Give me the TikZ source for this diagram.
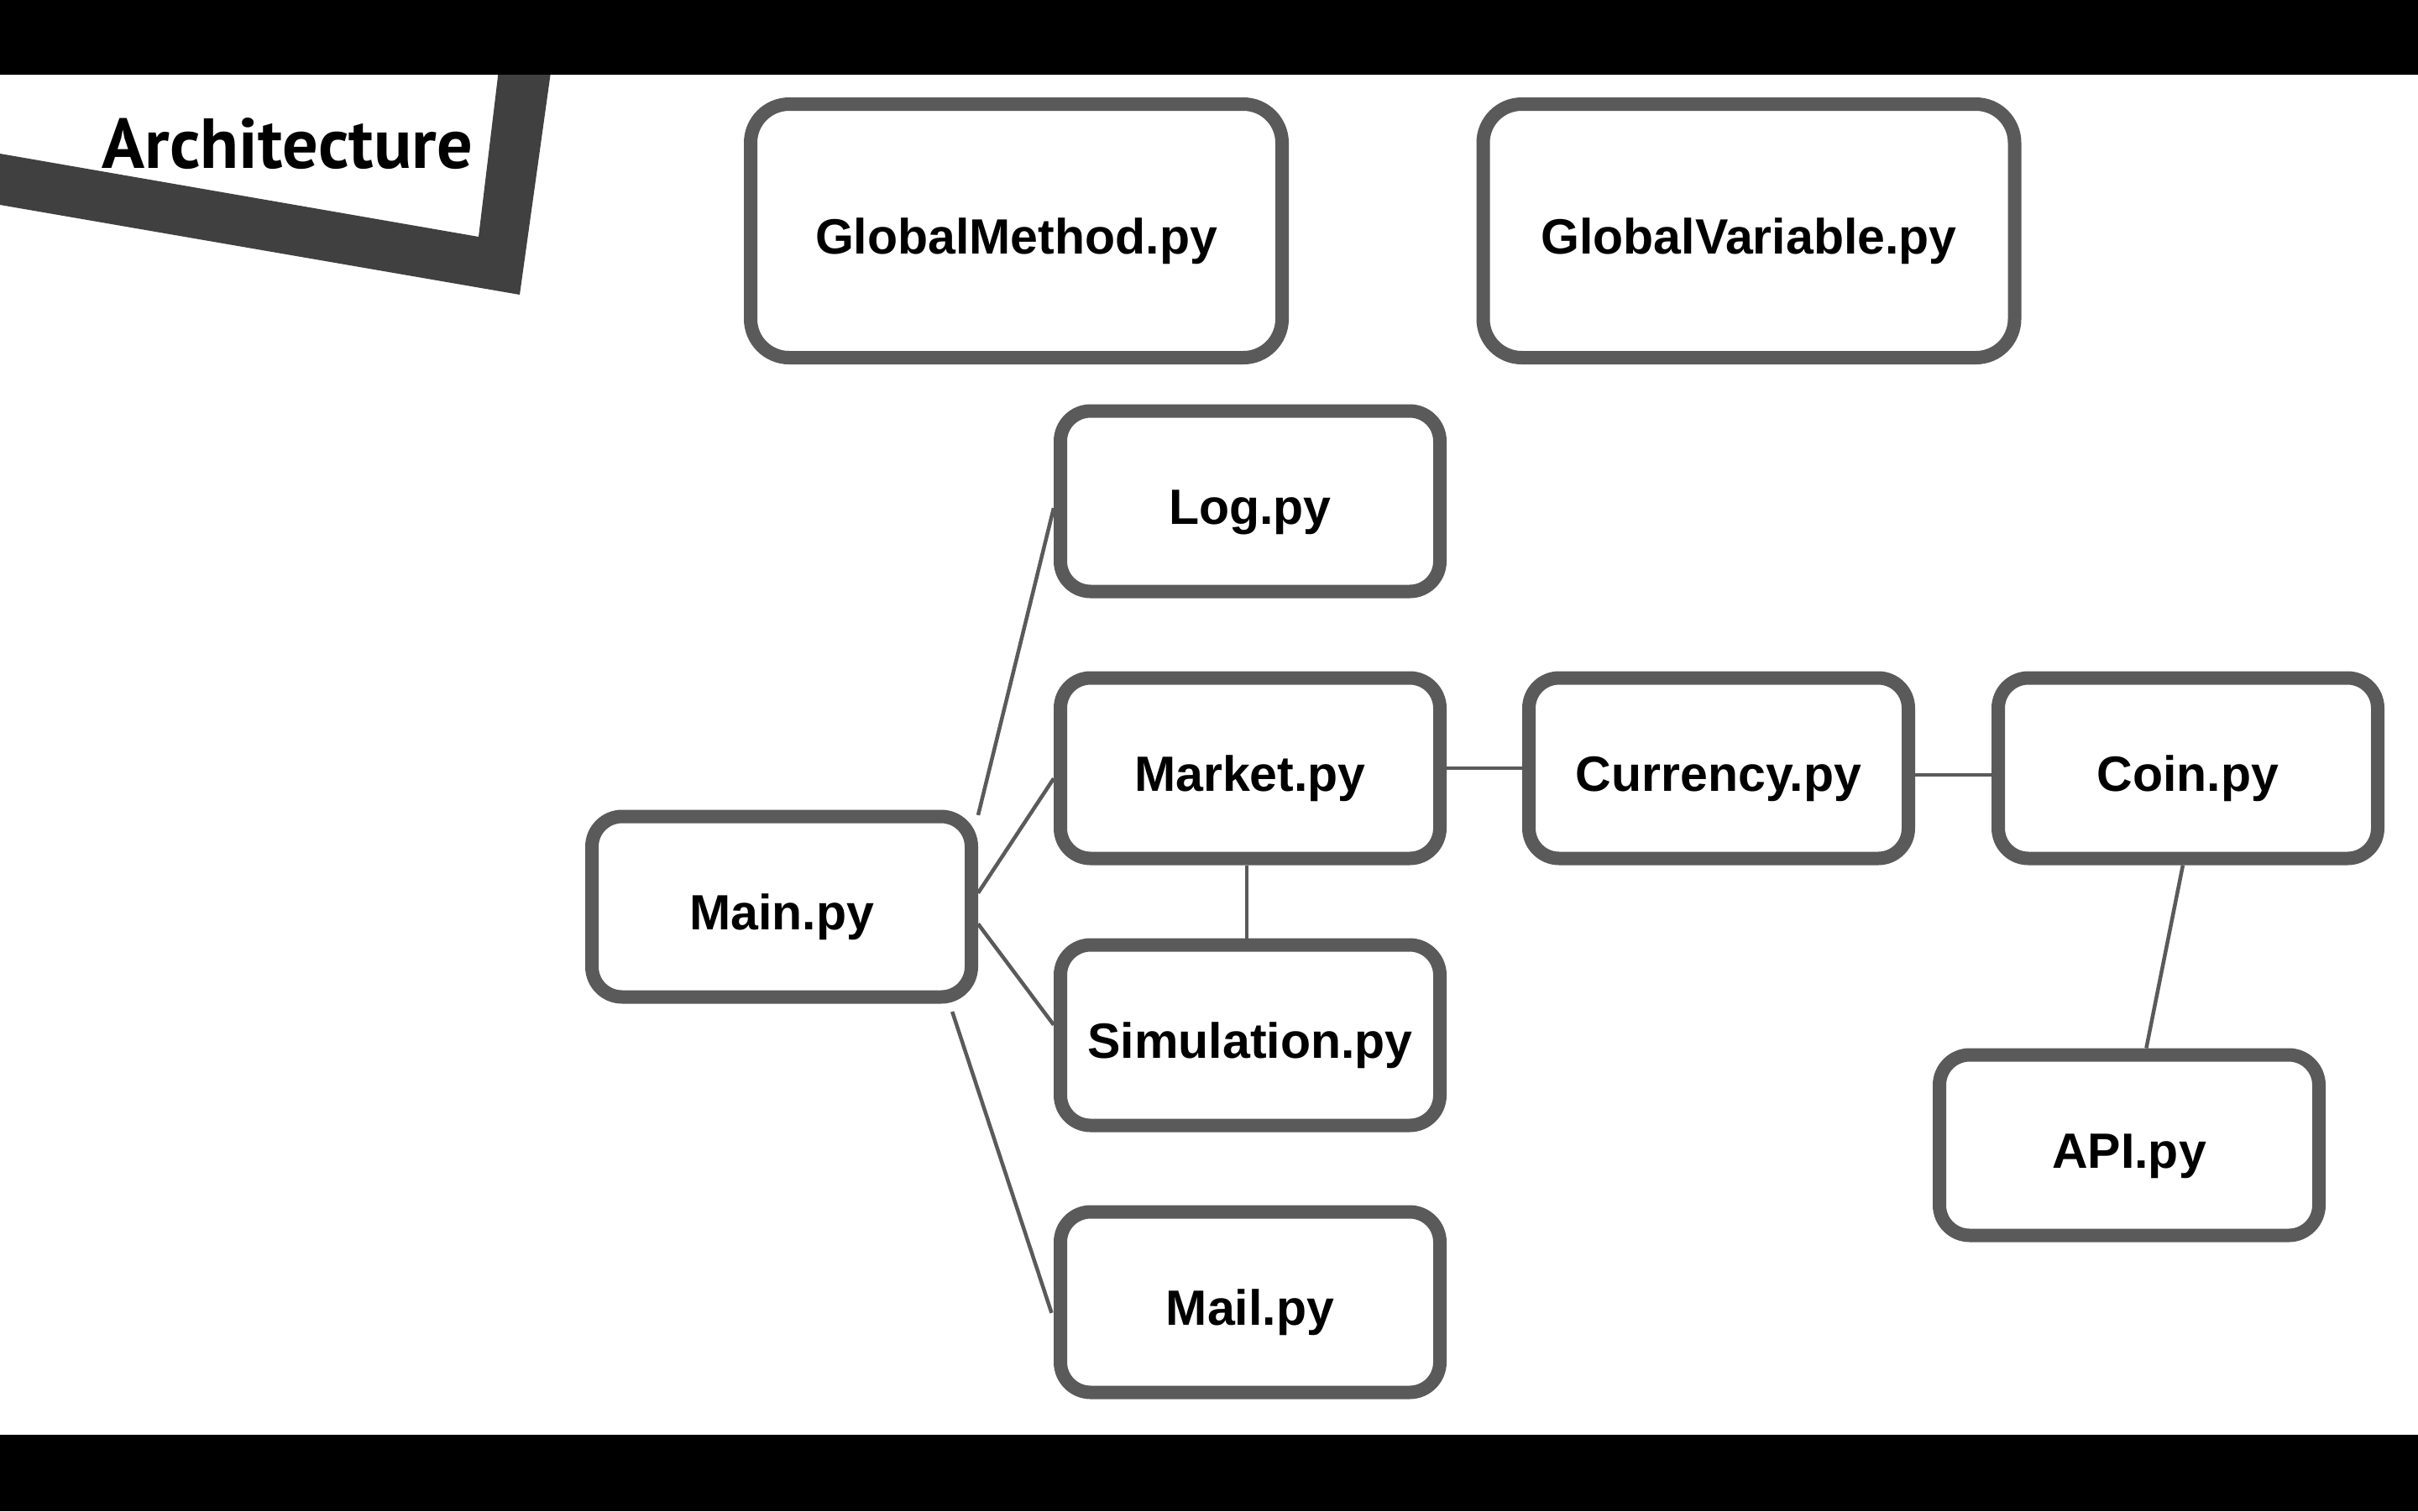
\documentclass[tikz,border=0pt]{standalone}
\usepackage{fontspec}
\setmainfont{Liberation Sans}
\newfontfamily\titlefont{PT Sans}
\usetikzlibrary{positioning}

\definecolor{boxgray}{HTML}{5A5A5A}
\definecolor{bandgray}{HTML}{404040}

\tikzset{
  module/.style={draw=boxgray, line width=0.16cm, rounded corners=0.36cm, fill=white,
    minimum width=4.52cm, minimum height=2.15cm, text height=0.55cm, text depth=0pt,
    font=\fontsize{16.8}{20}\selectfont\bfseries},
  globalmodule/.style={module, minimum width=6.33cm, minimum height=3.02cm, rounded corners=0.46cm},
  link/.style={draw=boxgray, line width=0.045cm}
}

\begin{document}
\begin{tikzpicture}
            \useasboundingbox (0,0) rectangle (28.8,-18);

            % Title Band
            \fill[bandgray] (0,-1.83) -- (5.70,-2.82) -- (6.04,0) -- (6.68,0) -- (6.19,-3.51) -- (0,-2.44) -- cycle;
            \node[anchor=base west, inner sep=0pt] (title) at (1.21,-2.0) {\titlefont\fontsize{24}{28}\selectfont\bfseries Architecture};

            % Black Bars
            \fill[black] (0,0) rectangle (28.8,-0.89);
            \fill[black] (0,-17.09) rectangle (28.8,-18);

            % Global Modules
            \node[globalmodule] (gmethod) at (12.105,-2.75) {GlobalMethod.py};
            \node[globalmodule] (gvar) at (20.83,-2.75) {GlobalVariable.py};

            % Modules
            \node[module] (main) at (9.31,-10.80) {Main.py};
            \node[module] (log) at (14.89,-5.97) {Log.py};
            \node[module, below=0.87cm of log] (market) {Market.py};
            \node[module, below=0.87cm of market] (sim) {Simulation.py};
            \node[module, below=0.87cm of sim] (mail) {Mail.py};
            \node[module, right=0.9cm of market] (currency) {Currency.py};
            \node[module, right=0.91cm of currency] (coin) {Coin.py};
            \node[module] (api) at (25.36,-13.64) {API.py};

            % Links
            \draw[link] (main.25) -- (log.182);
            \draw[link] (main.4) -- (market.183);
            \draw[link] (main.-5) -- (sim.177);
            \draw[link, shorten <=0.1cm, shorten >=0.08cm] (main.-30) -- (mail.185);
            \draw[link] (market.-92) -- (sim.92);
            \draw[link] (market.east) -- (currency.west);
            \draw[link] (currency.-2) -- (coin.182);
            \draw[link] (coin.-93) -- (api.80);
        \end{tikzpicture}
\end{document}
